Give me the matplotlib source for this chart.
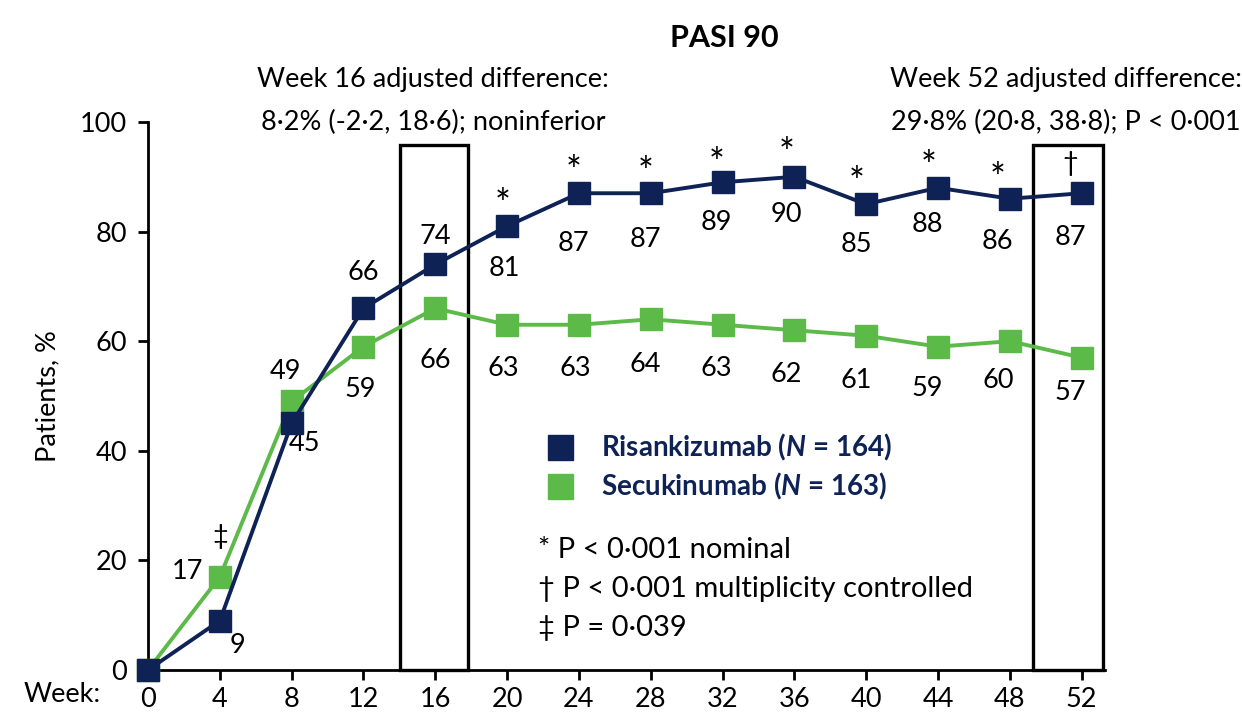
import matplotlib.pyplot as plt
from matplotlib.patches import Rectangle
from matplotlib.lines import Line2D

plt.rcParams['font.family'] = ['Lato', 'DejaVu Sans']
plt.rcParams['mathtext.fontset'] = 'custom'
plt.rcParams['mathtext.bfit'] = 'Lato:italic:bold'
plt.rcParams['mathtext.it'] = 'Lato:italic'

semanas = [0, 4, 8, 12, 16, 20, 24, 28, 32, 36, 40, 44, 48, 52]
risanki = [0, 9, 45, 66, 74, 81, 87, 87, 89, 90, 85, 88, 86, 87]
secuki = [0, 17, 49, 59, 66, 63, 63, 64, 63, 62, 61, 59, 60, 57]
marcas_risanki = ['', '', '', '', '', '*', '*', '*', '*', '*', '*', '*', '*', '\u2020']
marcas_secuki = ['', '\u2021', '', '', '', '', '', '', '', '', '', '', '', '']

azul = '#0e2256'
verde = '#5cba48'

# desplazamientos de las etiquetas en pixeles (dx, dy)
off_r = [None, (18, -25), (13, -20), (0, 36), (0, 28), (-3, -42), (-5, -50), (-5, -46),
         (-6, -40), (-8, -38), (-10, -40), (-11, -37), (-12, -43), (-11, -44)]
off_s = [None, (-32, 5), (-6, 30), (-3, -43), (0, -52), (-4, -44), (-4, -44), (-5, -45),
         (-6, -44), (-8, -44), (-10, -45), (-11, -42), (-12, -39), (-11, -35)]
off_mr = [None, None, None, None, None, (-4, 20), (-5, 20), (-5, 19), (-6, 17), (-8, 22),
          (-10, 20), (-9, 20), (-12, 19), (-11, 30)]
off_ms = [None, (0, 40)] + [None] * 12
tam_mr = [0, 0, 0, 0, 0, 27, 27, 27, 27, 27, 27, 27, 27, 19.5]

fs = 19.5

fig = plt.figure(figsize=(12.42, 7.13), dpi=100)
ax = fig.add_axes([148 / 1242, 1 - 670 / 713, (1105 - 148) / 1242, (670 - 122) / 713])

ax.plot(semanas, secuki, color=verde, lw=2.8, marker='s', ms=15.5, zorder=3, clip_on=False)
ax.plot(semanas, risanki, color=azul, lw=2.8, marker='s', ms=15.5, zorder=4, clip_on=False)

for i, s in enumerate(semanas):
    if off_r[i]:
        ax.annotate(str(risanki[i]), (s, risanki[i]), xytext=off_r[i], textcoords='offset pixels',
                    ha='center', va='center', fontsize=fs)
    if off_s[i]:
        ax.annotate(str(secuki[i]), (s, secuki[i]), xytext=off_s[i], textcoords='offset pixels',
                    ha='center', va='center', fontsize=fs)
    if off_mr[i]:
        ax.annotate(marcas_risanki[i], (s, risanki[i]), xytext=off_mr[i], textcoords='offset pixels',
                    ha='center', va='center', fontsize=tam_mr[i])
    if off_ms[i]:
        ax.annotate(marcas_secuki[i], (s, secuki[i]), xytext=off_ms[i], textcoords='offset pixels',
                    ha='center', va='center', fontsize=fs)

# cajas en semana 16 y 52
ax.add_patch(Rectangle((14.05, 0), 3.75, 95.8, fill=False, ec='black', lw=2.4, zorder=2, clip_on=False))
ax.add_patch(Rectangle((49.3, 0), 3.9, 95.8, fill=False, ec='black', lw=2.4, zorder=2, clip_on=False))

ax.set_xlim(0, 53.3)
ax.set_ylim(0, 100)
ax.set_xticks(semanas)
ax.set_yticks([0, 20, 40, 60, 80, 100])
ax.tick_params(axis='both', labelsize=fs, width=2, length=7, color='black')
ax.tick_params(axis='x', pad=5)
ax.tick_params(axis='y', pad=8)
ax.spines['top'].set_visible(False)
ax.spines['right'].set_visible(False)
ax.spines['left'].set_linewidth(2)
ax.spines['bottom'].set_linewidth(2)
ax.set_ylabel('Patients, %', fontsize=fs, labelpad=14)

fig.text(62 / 1242, 1 - 695 / 713, 'Week:', fontsize=fs, ha='center', va='center')
fig.text(724 / 1242, 1 - 38 / 713, 'PASI 90', fontsize=22, fontweight='bold', ha='center', va='center')
fig.text(433 / 1242, 1 - 80 / 713, 'Week 16 adjusted difference:', fontsize=fs, ha='center', va='center')
fig.text(433 / 1242, 1 - 122 / 713, '8\u00b72% (-2\u00b72, 18\u00b76); noninferior', fontsize=fs, ha='center', va='center')
fig.text(1066 / 1242, 1 - 80 / 713, 'Week 52 adjusted difference:', fontsize=fs, ha='center', va='center')
fig.text(1066 / 1242, 1 - 122 / 713, '29\u00b78% (20\u00b78, 38\u00b78); P < 0\u00b7001', fontsize=fs, ha='center', va='center')

handles = [Line2D([], [], ls='none', marker='s', ms=18, color=azul),
           Line2D([], [], ls='none', marker='s', ms=18, color=verde)]
etiquetas = [r'Risankizumab ($\mathbfit{N}$ = 164)', r'Secukinumab ($\mathbfit{N}$ = 163)']
leg = ax.legend(handles, etiquetas, loc='upper left', bbox_to_anchor=(0.375, 0.48), frameon=False,
                prop={'size': 20, 'weight': 'bold'}, handletextpad=0.5, labelspacing=0.3)
for t in leg.get_texts():
    t.set_color(azul)

notas = ['* P < 0\u00b7001 nominal', '\u2020 P < 0\u00b7001 multiplicity controlled', '\u2021 P = 0\u00b7039']
for k, n in enumerate(notas):
    fig.text(538 / 1242, 1 - (550 + 39 * k) / 713, n, fontsize=21, ha='left', va='center')

fig.savefig('out.png', dpi=100)
